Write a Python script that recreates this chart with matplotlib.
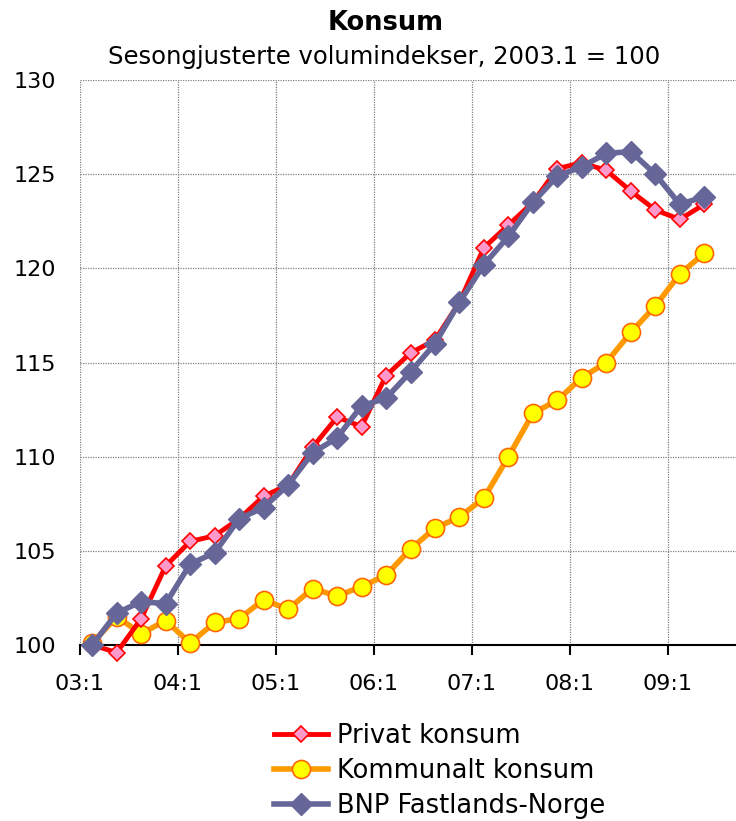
import numpy as np
import matplotlib
matplotlib.use("Agg")
import matplotlib.pyplot as plt

plt.rcParams['font.family'] = ['DejaVu Sans']

# quarterly values, 2003.1 to 2009.2
privat = [100.0, 99.6, 101.4, 104.2, 105.5, 105.8, 106.7, 107.9, 108.5, 110.5,
          112.1, 111.6, 114.3, 115.5, 116.2, 118.2, 121.1, 122.3, 123.5, 125.3,
          125.6, 125.2, 124.1, 123.1, 122.6, 123.4]
kommunalt = [100.1, 101.5, 100.6, 101.3, 100.1, 101.2, 101.4, 102.4, 101.9, 103.0,
             102.6, 103.1, 103.7, 105.1, 106.2, 106.8, 107.8, 110.0, 112.3, 113.0,
             114.2, 115.0, 116.6, 118.0, 119.7, 120.8]
bnp = [100.0, 101.7, 102.3, 102.2, 104.3, 104.9, 106.7, 107.3, 108.5, 110.2,
       111.0, 112.7, 113.1, 114.5, 116.0, 118.2, 120.2, 121.7, 123.5, 124.9,
       125.4, 126.1, 126.2, 125.0, 123.4, 123.8]
year_labels = ["03:1", "04:1", "05:1", "06:1", "07:1", "08:1", "09:1"]

x = np.arange(len(privat))

fig = plt.figure(figsize=(7.36, 8.21), dpi=100)
ax = fig.add_axes([80/736, 1-645/821, (741-80)/736, (645-80)/821])

ax.plot(x, kommunalt, color="#FF9900", lw=4, marker="o", ms=13,
        mfc="#FFFF00", mec="#FF6600", mew=1.2, label="Kommunalt konsum",
        zorder=3, clip_on=False)
ax.plot(x, privat, color="#FF0000", lw=3.5, marker="D", ms=8.5,
        mfc="#FF99CC", mec="#FF0000", mew=1.2, label="Privat konsum",
        zorder=4, clip_on=False)
ax.plot(x, bnp, color="#666699", lw=4, marker="D", ms=11,
        mfc="#666699", mec="#666699", label="BNP Fastlands-Norge",
        zorder=5, clip_on=False)

ax.set_xlim(-0.5, 26.5)
ax.set_ylim(100, 130)
ax.set_yticks(np.arange(100, 131, 5))
ticks = np.arange(-0.5, 26, 4)
ax.set_xticks(ticks)
ax.set_xticklabels(year_labels)
ax.tick_params(axis="x", direction="out", length=7, width=1.5, pad=14, labelsize=16)
ax.tick_params(axis="y", length=0, pad=17, labelsize=16)
ax.grid(True, color="#808080", linestyle=(0, (1, 1)), linewidth=0.9)

for s in ["left", "top", "right"]:
    ax.spines[s].set_visible(False)
ax.spines["bottom"].set_linewidth(1.5)
ax.spines["bottom"].set_zorder(2)
ax.set_axisbelow(True)

fig.text(386/736, 0.972, "Konsum", ha="center", va="center", fontsize=18.5, fontweight="bold")
fig.text(384/736, 0.930, "Sesongjusterte volumindekser, 2003.1 = 100", ha="center",
         va="center", fontsize=17.5)

h, l = ax.get_legend_handles_labels()
order = [1, 0, 2]
fig.legend([h[i] for i in order], [l[i] for i in order], loc="upper left",
           bbox_to_anchor=(261/736, 1-710/821), frameon=False, fontsize=18.5,
           handlelength=2.1, labelspacing=0.36, handletextpad=0.35, borderpad=0)

plt.savefig("out.png", dpi=100)
